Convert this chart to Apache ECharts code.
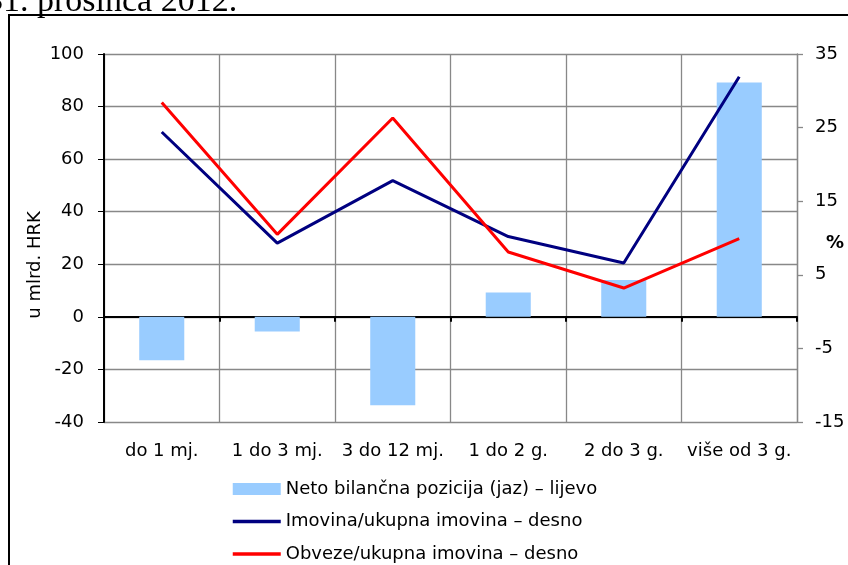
<!DOCTYPE html>
<html>
<head>
<meta charset="utf-8">
<script src="https://cdn.jsdelivr.net/npm/echarts@6/dist/echarts.min.js"></script>
<style>html,body{margin:0;padding:0;background:#fff;}#c{width:848px;height:565px;}</style>
</head>
<body>
<div id="c"></div>
<script>
const categories = ['do 1 mj.', '1 do 3 mj.', '3 do 12 mj.', '1 do 2 g.', '2 do 3 g.', 'više od 3 g.'];
const netoGap = [-16.5, -5.6, -33.6, 9.3, 14.0, 89.2];
const imovina = [24.4, 9.3, 17.8, 10.2, 6.6, 31.9];
const obveze = [28.4, 10.5, 26.3, 8.1, 3.2, 9.9];
const seriesNames = ['Neto bilančna pozicija (jaz) – lijevo', 'Imovina/ukupna imovina – desno', 'Obveze/ukupna imovina – desno'];
const titleText = '31. prosinca 2012.';
const yNameText = 'u mlrd. HRK';

const FONT = 'DejaVu Sans';
const chart = echarts.init(document.getElementById('c'), null, {renderer: 'canvas'});
chart.setOption({
  animation: false,
  backgroundColor: '#fff',
  textStyle: {fontFamily: FONT, color: '#000'},
  grid: {left: 104, right: 51, top: 54, bottom: 143, containLabel: false},
  legend: {
    orient: 'vertical', left: 231, top: 480, height: 90, padding: 0,
    itemWidth: 48, itemHeight: 12, itemGap: 14.5,
    selectedMode: false,
    textStyle: {fontFamily: FONT, fontSize: 18, color: '#000'},
    data: [
      {name: seriesNames[0], icon: 'rect'},
      {name: seriesNames[1], itemStyle: {color: 'rgba(0,0,0,0)', borderWidth: 0, opacity: 0}, lineStyle: {width: 3.5}},
      {name: seriesNames[2], itemStyle: {color: 'rgba(0,0,0,0)', borderWidth: 0, opacity: 0}, lineStyle: {width: 3.5}}
    ]
  },
  xAxis: [
    {
      type: 'category', data: categories, position: 'bottom',
      axisLine: {show: false, onZero: false},
      axisTick: {show: false},
      splitLine: {show: true, lineStyle: {color: '#888', width: 1.3}},
      axisLabel: {fontFamily: FONT, fontSize: 18, color: '#000', margin: 20, interval: 0}
    },
    {
      type: 'category', data: categories, position: 'bottom',
      axisLine: {show: true, onZero: true, onZeroAxisIndex: 0, lineStyle: {color: '#000', width: 2}},
      axisTick: {show: true, length: 5, lineStyle: {color: '#000', width: 2}},
      axisLabel: {show: false},
      splitLine: {show: false}
    }
  ],
  yAxis: [
    {
      type: 'value', min: -40, max: 100, interval: 20, position: 'left',
      axisLine: {show: true, lineStyle: {color: '#000', width: 2}},
      axisTick: {show: true, length: 6, lineStyle: {color: '#000'}},
      splitLine: {show: true, lineStyle: {color: '#888', width: 1.3}},
      axisLabel: {fontFamily: FONT, fontSize: 18, color: '#000', margin: 20}
    },
    {
      type: 'value', min: -15, max: 35, interval: 10, position: 'right',
      axisLine: {show: true, lineStyle: {color: '#888', width: 1.3}},
      axisTick: {show: true, length: 6, lineStyle: {color: '#888', width: 1.3}},
      splitLine: {show: false},
      axisLabel: {fontFamily: FONT, fontSize: 18, color: '#000', margin: 18}
    }
  ],
  series: [
    {
      name: seriesNames[0], type: 'bar', xAxisIndex: 0, yAxisIndex: 0,
      data: netoGap, barCategoryGap: '61%',
      itemStyle: {color: '#99CCFF'}
    },
    {
      name: seriesNames[1], type: 'line', xAxisIndex: 0, yAxisIndex: 1,
      data: imovina, symbol: 'none', z: 5,
      lineStyle: {color: '#000080', width: 3}, itemStyle: {color: '#000080'}
    },
    {
      name: seriesNames[2], type: 'line', xAxisIndex: 0, yAxisIndex: 1,
      data: obveze, symbol: 'none', z: 6,
      lineStyle: {color: '#FF0000', width: 3}, itemStyle: {color: '#FF0000'}
    }
  ],
  graphic: [
    {
      type: 'polyline', z: 100,
      shape: {points: [[9, 565], [9, 15], [848, 15]]},
      style: {stroke: '#000', lineWidth: 2, fill: null}
    },
    {
      type: 'text', x: -14, y: 19,
      style: {text: titleText, font: '34px "Liberation Serif"', fill: '#000', textAlign: 'left', textVerticalAlign: 'bottom'}
    },
    {
      type: 'text', x: 35, y: 265, rotation: Math.PI / 2,
      style: {text: yNameText, font: '18px "DejaVu Sans"', fill: '#000', textAlign: 'center', textVerticalAlign: 'middle'}
    },
    {
      type: 'text', x: 835, y: 243,
      style: {text: '%', font: 'bold 18px "DejaVu Sans"', fill: '#000', textAlign: 'center', textVerticalAlign: 'middle'}
    }
  ]
});
</script>
</body>
</html>
